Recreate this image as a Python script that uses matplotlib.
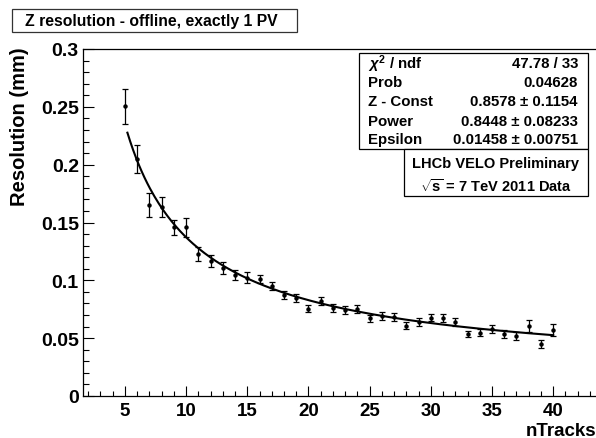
import numpy as np
import matplotlib
matplotlib.use("Agg")
import matplotlib.pyplot as plt
from matplotlib.patches import Rectangle
from matplotlib.ticker import MultipleLocator, FuncFormatter

plt.rcParams['font.family'] = ['Liberation Sans', 'DejaVu Sans']
plt.rcParams['font.weight'] = 'bold'
plt.rcParams['mathtext.fontset'] = 'custom'
plt.rcParams['mathtext.rm'] = 'Liberation Sans:bold'
plt.rcParams['mathtext.it'] = 'Liberation Sans:italic'
plt.rcParams['mathtext.bf'] = 'Liberation Sans:bold'

# data
n_tracks = list(range(5, 41))
resolution = [0.2505, 0.2049, 0.1651, 0.1634, 0.1458, 0.1458, 0.1228, 0.1167,
              0.1107, 0.1046, 0.1023, 0.1009, 0.0951, 0.0873, 0.0850, 0.0755,
              0.0824, 0.0764, 0.0743, 0.0752, 0.0674, 0.0692, 0.0680, 0.0608,
              0.0643, 0.0677, 0.0674, 0.0637, 0.0536, 0.0548, 0.0579, 0.0533,
              0.0519, 0.0605, 0.0450, 0.0568]
res_err = [0.0150, 0.0118, 0.0101, 0.0086, 0.0063, 0.0080, 0.0060, 0.0048,
           0.0052, 0.0045, 0.0048, 0.0035, 0.0035, 0.0035, 0.0035, 0.0030,
           0.0035, 0.0035, 0.0033, 0.0035, 0.0030, 0.0035, 0.0035, 0.0030,
           0.0035, 0.0030, 0.0035, 0.0035, 0.0030, 0.0030, 0.0035, 0.0035,
           0.0035, 0.0048, 0.0033, 0.0052]

# fit result (from the stats box)
z_const = 0.8578
power = 0.8448
epsilon = 0.01458
fit_range = (5.2, 40.0)

stat_names = [r'$\chi^{2}$ / ndf', 'Prob', 'Z - Const', 'Power', 'Epsilon']
stat_values = ['47.78 / 33', '0.04628', '0.8578 \u00b1 0.1154',
               '0.8448 \u00b1 0.08233', '0.01458 \u00b1 0.00751']

W, H = 596, 439
fig = plt.figure(figsize=(W / 100, H / 100), dpi=100)
ax = fig.add_axes([83 / W, (H - 397) / H, 1 - 83 / W, (397 - 50) / H])

ax.errorbar(n_tracks, resolution, yerr=res_err, fmt='o', ms=2.2, color='black',
            ecolor='black', elinewidth=0.9, capsize=2.0, capthick=0.9)

xf = np.linspace(fit_range[0], fit_range[1], 300)
ax.plot(xf, z_const / xf**power + epsilon, color='black', lw=1.5)

ax.set_xlim(1.57, 43.5)
ax.set_ylim(0, 0.3)
ax.xaxis.set_major_locator(MultipleLocator(5))
ax.xaxis.set_minor_locator(MultipleLocator(1))
ax.yaxis.set_major_locator(MultipleLocator(0.05))
ax.yaxis.set_minor_locator(MultipleLocator(0.01))
ax.yaxis.set_major_formatter(FuncFormatter(lambda v, p: '%g' % round(v, 3)))
ax.tick_params(axis='x', which='major', direction='in', length=7, width=0.8,
               labelsize=13.5, pad=4)
ax.tick_params(axis='x', which='minor', direction='in', length=3.5, width=0.8)
ax.tick_params(axis='y', which='major', direction='in', length=8, width=0.8,
               labelsize=14, pad=3)
ax.tick_params(axis='y', which='minor', direction='in', length=4.5, width=0.8)
ax.spines['right'].set_visible(False)
for s in ['left', 'bottom', 'top']:
    ax.spines[s].set_linewidth(0.9)

fig.text(20 / W, 1 - 47 / H, 'Resolution (mm)', rotation=90, ha='center',
         va='top', fontsize=14.5, fontweight='bold')
fig.text(1.0, 3 / H, 'nTracks', ha='right', va='baseline', fontsize=13.5,
         fontweight='bold')

# title box
fig.patches.append(Rectangle((12 / W, 1 - 33 / H), (297 - 12) / W, 23 / H,
                             transform=fig.transFigure, fill=False,
                             edgecolor='#333333', lw=0.9))
fig.text(25 / W, 1 - 21.5 / H, 'Z resolution - offline, exactly 1 PV',
         ha='left', va='center', fontsize=11.3, fontweight='bold')

# stats box
fig.patches.append(Rectangle((359 / W, 1 - 150 / H), (588 - 359) / W, 96 / H,
                             transform=fig.transFigure, facecolor='white',
                             edgecolor='black', lw=0.9, zorder=5))
row_y = [64, 83.3, 102.3, 121.7, 140]
for name, val, yy in zip(stat_names, stat_values, row_y):
    fig.text(368 / W, 1 - yy / H, name, ha='left', va='center', fontsize=10.8,
             fontweight='bold', zorder=6)
    fig.text(578 / W, 1 - yy / H, val, ha='right', va='center', fontsize=10.8,
             fontweight='bold', zorder=6)

# label box
fig.patches.append(Rectangle((404 / W, 1 - 197 / H), (588 - 404) / W, 47 / H,
                             transform=fig.transFigure, facecolor='white',
                             edgecolor='black', lw=0.9, zorder=5))
fig.text(496 / W, 1 - 164 / H, 'LHCb VELO Preliminary', ha='center',
         va='center', fontsize=10.5, fontweight='bold', zorder=6)
fig.text(496 / W, 1 - 186.5 / H, r'$\sqrt{\mathrm{s}}$ = 7 TeV 2011 Data',
         ha='center', va='center', fontsize=10.5, fontweight='bold', zorder=6)

fig.savefig('out.png', dpi=100)
